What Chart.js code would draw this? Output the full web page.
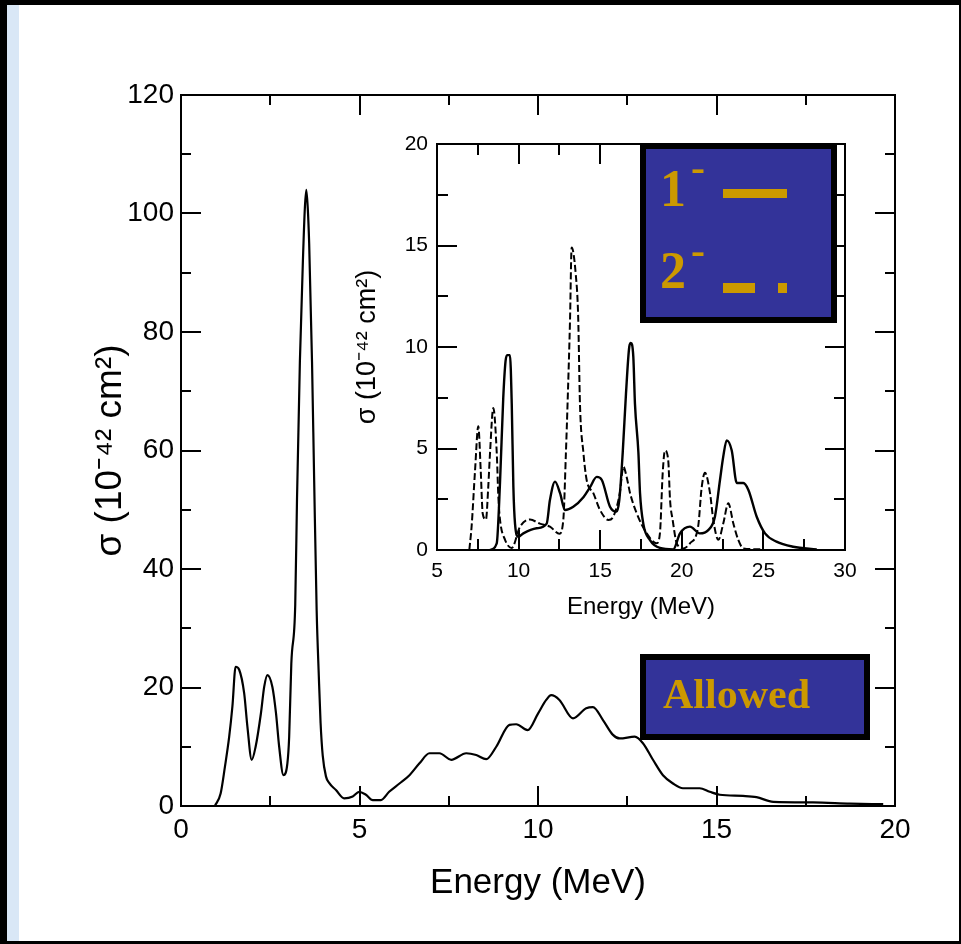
<!DOCTYPE html>
<html>
<head>
<meta charset="utf-8">
<script src="https://cdn.jsdelivr.net/npm/chart.js@4.4.1/dist/chart.umd.min.js"></script>
<style>
  html, body { margin: 0; padding: 0; width: 961px; height: 944px; overflow: hidden; background: #000; }
  #sheet { position: absolute; left: 7px; top: 5px; width: 952px; height: 936px; background: #fff; }
  #strip { position: absolute; left: 7px; top: 5px; width: 12px; height: 936px; background: #d9e7f6; }
  #main { position: absolute; left: 0; top: 0; }
  #inset { position: absolute; left: 340px; top: 120px; }
</style>
</head>
<body>
<div id="sheet"></div>
<div id="strip"></div>
<canvas id="main" width="961" height="944"></canvas>
<canvas id="inset" width="530" height="510"></canvas>
<script>
// Allowed (Gamow-Teller) cross section, main panel
const allowedEnergy = [0.95, 1.11, 1.23, 1.35, 1.44, 1.53, 1.63, 1.77, 1.86, 1.98, 2.09, 2.24, 2.33, 2.42, 2.56, 2.66, 2.75, 2.87, 2.98, 3.03,
  3.09, 3.20, 3.25, 3.33, 3.42, 3.47, 3.51, 3.55, 3.59, 3.67, 3.73, 3.80, 3.86, 3.91, 3.97, 4.06, 4.15, 4.34, 4.57, 4.81,
  4.99, 5.18, 5.37, 5.60, 5.83, 6.12, 6.40, 6.68, 6.96, 7.24, 7.57, 7.99, 8.27, 8.55, 8.83, 9.20, 9.39, 9.71, 10.00, 10.23,
  10.37, 10.60, 10.98, 11.35, 11.54, 11.82, 12.10, 12.29, 12.71, 12.94, 13.22, 13.50, 13.78, 14.06, 14.53, 14.81, 15.09, 15.74, 16.12, 16.59,
  17.70, 18.74, 19.67];
const allowedSigma = [0, 2.1, 6.6, 11.7, 16.8, 23.5, 23.0, 19.0, 13.4, 7.8, 10.0, 15.7, 20.1, 22.1, 20.1, 15.7, 10.0, 5.2, 7.2, 11.7,
  24, 34, 52, 75, 93, 101, 104, 101, 95, 75, 55, 33, 22, 14, 8.5, 5.0, 3.9, 2.7, 1.3, 1.6,
  2.4, 1.9, 1.0, 1.0, 2.4, 3.8, 5.2, 7.2, 8.9, 8.9, 7.8, 8.9, 8.6, 7.9, 10.0, 13.7, 13.8, 12.8, 15.6, 17.9,
  18.7, 17.9, 14.8, 16.5, 16.7, 14.5, 12.0, 11.4, 11.7, 10.6, 7.8, 5.2, 3.8, 3.0, 3.0, 2.4, 1.9, 1.7, 1.5, 0.7,
  0.6, 0.4, 0.3];

// Inset: 1- (solid) and 2- (dashed) multipole contributions
const dipoleEnergy = [8.25, 8.66, 8.86, 9.06, 9.20, 9.30, 9.47, 9.58, 9.68, 9.78, 9.98, 10.29, 11.10, 11.72, 11.92, 12.23, 12.54, 12.84, 13.35, 13.97,
  14.38, 14.79, 15.10, 15.60, 16.00, 16.17, 16.38, 16.58, 16.78, 16.88, 17.03, 17.13, 17.34, 17.44, 17.64, 18.05, 18.66, 19.48, 19.89, 20.50,
  21.10, 21.62, 22.03, 22.34, 22.54, 22.75, 23.06, 23.37, 23.77, 24.08, 24.59, 25.10, 25.80, 26.83, 28.27];
const dipoleSigma = [0, 0.33, 3.3, 7.5, 9.3, 9.6, 9.6, 7.2, 3.1, 1.3, 0.65, 0.82, 1.07, 1.3, 2.46, 3.37, 2.8, 1.97, 2.13, 2.6,
  3.1, 3.6, 3.45, 2.13, 1.89, 2.46, 4.8, 7.7, 10.0, 10.2, 9.5, 7.2, 4.8, 2.8, 1.3, 0.49, 0.1, 0.03, 0.82, 1.15,
  0.82, 0.98, 1.64, 3.45, 4.6, 5.4, 4.9, 3.3, 3.3, 2.96, 1.64, 0.82, 0.41, 0.16, 0.03];

const quadEnergy = [6.98, 7.12, 7.33, 7.53, 7.68, 7.80, 8.00, 8.14, 8.25, 8.45, 8.66, 8.76, 8.86, 9.17, 9.58, 10.09, 10.70, 11.30, 11.92, 12.50,
  12.74, 12.90, 13.00, 13.15, 13.25, 13.50, 13.65, 13.76, 13.97, 14.17, 14.58, 14.99, 15.50, 15.80, 16.20, 16.42, 16.62, 16.83, 17.24, 17.85,
  18.46, 18.66, 18.83, 18.97, 19.17, 19.28, 19.44, 19.69, 20.10, 20.50, 21.00, 21.22, 21.42, 21.73, 21.93, 22.24, 22.54, 22.85, 23.16, 23.46,
  23.77, 25.00];
const quadSigma = [0, 1.15, 3.9, 6.1, 3.9, 1.8, 1.5, 3.1, 4.8, 7.0, 4.8, 2.6, 1.5, 0.5, 0.1, 1.15, 1.5, 1.3, 1.15, 0.8,
  1.48, 4.8, 7.2, 11.3, 14.9, 13.6, 11.5, 7.2, 4.8, 3.45, 2.8, 1.97, 1.48, 1.64, 2.8, 4.1, 3.6, 2.8, 1.8, 0.82,
  0.33, 0.82, 3.8, 4.9, 4.4, 2.46, 1.48, 0.33, 0.08, 0.33, 1.15, 3.1, 3.8, 2.8, 1.48, 0.5, 1.3, 2.3, 1.3, 0.5,
  0.08, 0.03];

// Axis ranges and tick steps
const mainXRange = [0, 20], mainXStep = 5;
const mainYRange = [0, 120], mainYStep = 20;
const insetXRange = [5, 30], insetXStep = 5;
const insetYRange = [0, 20], insetYStep = 5;

// Text
const energyTitle = 'Energy (MeV)';
const sigmaTitle = 'σ (10⁻⁴² cm²)';
const legendLabels = ['1', '2'];
const boxLabel = 'Allowed';

const SANS = "'Liberation Sans', Arial, Helvetica, sans-serif";
const SERIF = "'Liberation Serif', 'Times New Roman', serif";
const GOLD = '#cc9900';
const NAVY = '#333399';

const toPoints = (xs, ys) => xs.map((x, i) => ({ x, y: ys[i] }));

// Closed frame with inward major/minor ticks on all four sides
const framePlugin = {
  id: 'frame',
  afterDatasetsDraw(chart, args, opts) {
    const { ctx, chartArea: a, scales: { x, y } } = chart;
    ctx.save();
    ctx.strokeStyle = '#000';
    ctx.lineWidth = opts.lineWidth;
    ctx.lineCap = 'butt';
    ctx.beginPath();
    const marks = (scale, len, horizontal) => {
      const vals = scale.ticks.map(t => t.value);
      const all = [];
      vals.forEach((v, i) => {
        all.push([v, len.major]);
        if (i < vals.length - 1) all.push([(v + vals[i + 1]) / 2, len.minor]);
      });
      all.forEach(([v, l]) => {
        const p = Math.round(scale.getPixelForValue(v));
        if (horizontal) {
          ctx.moveTo(p, a.bottom); ctx.lineTo(p, a.bottom - l);
          ctx.moveTo(p, a.top); ctx.lineTo(p, a.top + l);
        } else {
          ctx.moveTo(a.left, p); ctx.lineTo(a.left + l, p);
          ctx.moveTo(a.right, p); ctx.lineTo(a.right - l, p);
        }
      });
    };
    marks(x, opts.tick, true);
    marks(y, opts.tick, false);
    ctx.stroke();
    ctx.strokeRect(a.left, a.top, a.right - a.left, a.bottom - a.top);
    ctx.restore();
  }
};

// Framed label box drawn over the plot
function drawBox(ctx, x, y, w, h, border) {
  ctx.fillStyle = '#000';
  ctx.fillRect(x, y, w, h);
  ctx.fillStyle = NAVY;
  ctx.fillRect(x + border, y + border, w - 2 * border, h - 2 * border);
}

const allowedBoxPlugin = {
  id: 'allowedBox',
  afterDraw(chart) {
    const ctx = chart.ctx;
    ctx.save();
    drawBox(ctx, 640, 654, 230, 86, 6);
    ctx.fillStyle = GOLD;
    ctx.font = 'bold 42px ' + SERIF;
    ctx.textBaseline = 'alphabetic';
    ctx.fillText(boxLabel, 663, 708);
    ctx.restore();
  }
};

const legendBoxPlugin = {
  id: 'legendBox',
  afterDraw(chart) {
    const ctx = chart.ctx;
    ctx.save();
    ctx.translate(-340, -120);
    drawBox(ctx, 640, 143, 197, 180, 6);
    ctx.fillStyle = GOLD;
    ctx.textBaseline = 'alphabetic';
    const rows = [
      { base: 206, supBase: 181, marks: [[723, 189, 64, 9]] },
      { base: 288, supBase: 264, marks: [[723, 283, 32, 10], [778, 283, 9, 10]] }
    ];
    rows.forEach((r, i) => {
      ctx.font = 'bold 52px ' + SERIF;
      ctx.fillText(legendLabels[i], 660, r.base);
      ctx.font = 'bold 42px ' + SERIF;
      ctx.fillText('-', 691, r.supBase);
      r.marks.forEach(m => ctx.fillRect(m[0], m[1], m[2], m[3]));
    });
    ctx.restore();
  }
};

function axisOptions(range, step, tickFont, tickPad, title, titleFont, titlePad, horizontal, fitSize) {
  return {
    type: 'linear',
    min: range[0], max: range[1],
    ticks: { stepSize: step, padding: tickPad, color: '#000', font: { family: SANS, size: tickFont }, maxRotation: 0, autoSkip: false },
    grid: { display: false, drawTicks: false },
    border: { display: false },
    title: { display: true, text: title, color: '#000', font: { family: SANS, size: titleFont }, padding: titlePad },
    afterFit(s) {
      if (horizontal) { s.height = fitSize; s.paddingLeft = 0; s.paddingRight = 0; }
      else { s.width = fitSize; s.paddingTop = 0; s.paddingBottom = 0; }
    }
  };
}

const common = {
  responsive: false,
  animation: false,
  devicePixelRatio: 1,
  events: [],
  plugins: { legend: { display: false }, tooltip: { enabled: false } }
};

new Chart(document.getElementById('main'), {
  type: 'line',
  data: {
    datasets: [{
      data: toPoints(allowedEnergy, allowedSigma),
      borderColor: '#000', borderWidth: 2.2, pointRadius: 0,
      cubicInterpolationMode: 'monotone', fill: false
    }]
  },
  options: {
    ...common,
    layout: { padding: { left: 88, top: 95, right: 66, bottom: 28 } },
    plugins: { ...common.plugins, frame: { lineWidth: 2, tick: { major: 20, minor: 10 } } },
    scales: {
      x: axisOptions(mainXRange, mainXStep, 28, 7, energyTitle, 35, { top: 0, bottom: 12 }, true, 110),
      y: axisOptions(mainYRange, mainYStep, 28, 7, sigmaTitle, 37, { top: 1, bottom: 0 }, false, 93)
    }
  },
  plugins: [framePlugin, allowedBoxPlugin]
});

new Chart(document.getElementById('inset'), {
  type: 'line',
  data: {
    datasets: [
      {
        data: toPoints(dipoleEnergy, dipoleSigma),
        borderColor: '#000', borderWidth: 2.4, pointRadius: 0,
        cubicInterpolationMode: 'monotone', fill: false
      },
      {
        data: toPoints(quadEnergy, quadSigma),
        borderColor: '#000', borderWidth: 2, borderDash: [7, 3], pointRadius: 0,
        cubicInterpolationMode: 'monotone', fill: false
      }
    ]
  },
  options: {
    ...common,
    layout: { padding: { left: 11, top: 24, right: 25, bottom: 8 } },
    plugins: { ...common.plugins, frame: { lineWidth: 2, tick: { major: 20, minor: 11 } } },
    scales: {
      x: axisOptions(insetXRange, insetXStep, 21, 9, energyTitle, 24, { top: 0, bottom: 0 }, true, 72),
      y: axisOptions(insetYRange, insetYStep, 21, 9, sigmaTitle, 27, { top: 0, bottom: 0 }, false, 86)
    }
  },
  plugins: [framePlugin, legendBoxPlugin]
});
</script>
</body>
</html>
